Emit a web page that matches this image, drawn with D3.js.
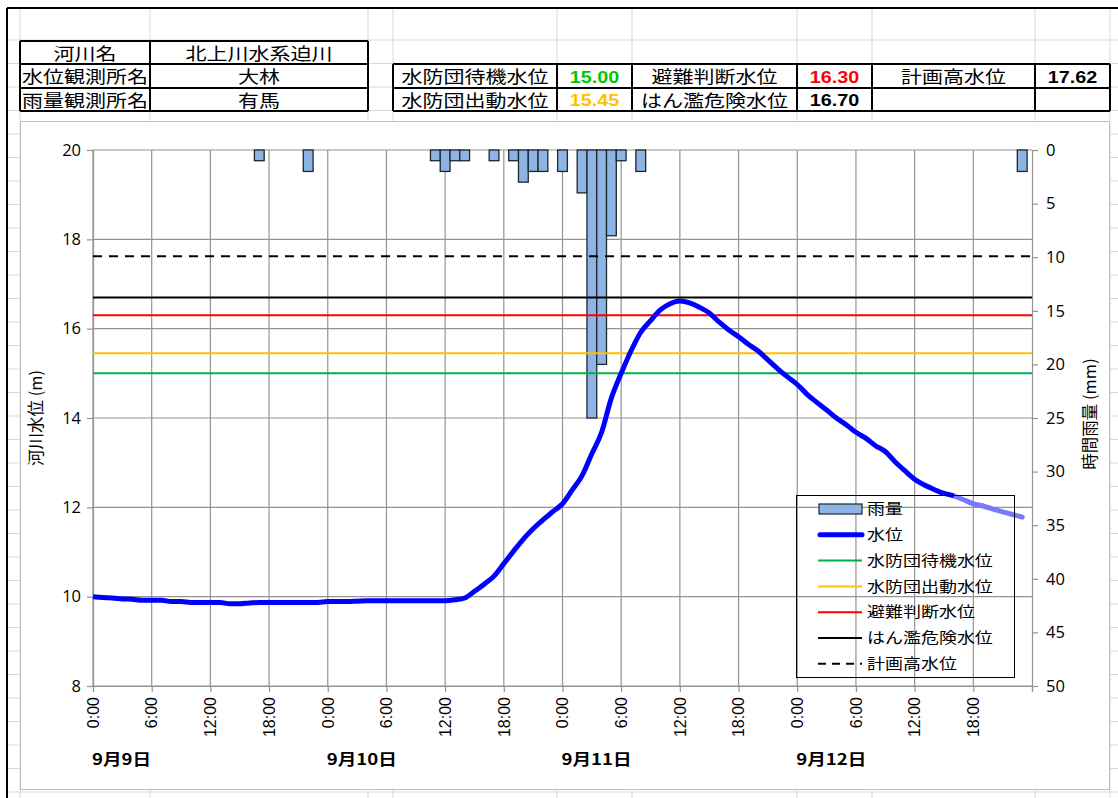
<!DOCTYPE html>
<html><head><meta charset="utf-8">
<script src="https://cdn.jsdelivr.net/npm/d3@7"></script>
<style>body{margin:0;background:#fff}svg{display:block}</style>
</head><body><svg id="c" width="1118" height="798"></svg>
<script>
// ---------- data ----------
const waterLevel = [
 10.00, 9.98, 9.97, 9.95, 9.94, 9.92, 9.92, 9.92, 9.89, 9.89, 9.87, 9.87,
  9.87, 9.87, 9.84, 9.84, 9.86, 9.87, 9.87, 9.87, 9.87, 9.87, 9.87, 9.87,
  9.89, 9.89, 9.89, 9.90, 9.91, 9.91, 9.91, 9.91, 9.91, 9.91, 9.91, 9.91,
  9.91, 9.93, 9.97,10.12,10.28,10.46,10.74,11.02,11.29,11.52,11.72,11.90,
 12.08,12.39,12.71,13.20,13.68,14.45,15.00,15.50,15.92,16.18,16.42,16.56,
 16.62,16.58,16.48,16.35,16.15,15.97,15.82,15.65,15.50,15.30,15.10,14.92,
 14.75,14.53,14.35,14.18,14.00,13.85,13.68,13.55,13.38,13.25,13.02,12.82,
 12.63,12.50,12.40,12.31,12.26,12.17,12.08,12.03,11.96,11.90,11.84,11.78
];
const rainfall = [
 0,0,0,0,0,0,0,0,0,0,0,0, 0,0,0,0,0,1,0,0,0,0,2,0,
 0,0,0,0,0,0,0,0,0,0,0,1, 2,1,1,0,0,1,0,1,3,2,2,0,
 2,0,4,25,20,8,1,0,2,0,0,0, 0,0,0,0,0,0,0,0,0,0,0,0,
 0,0,0,0,0,0,0,0,0,0,0,0, 0,0,0,0,0,0,0,0,0,0,0,2
];
const thresholdNames  = ["水防団待機水位","水防団出動水位","避難判断水位","はん濫危険水位","計画高水位"];
const thresholdValues = [15.00, 15.45, 16.30, 16.70, 17.62];
const xTickHours  = [0,6,12,18,24,30,36,42,48,54,60,66,72,78,84,90];
const xTickLabels = ["0:00","6:00","12:00","18:00","0:00","6:00","12:00","18:00",
                     "0:00","6:00","12:00","18:00","0:00","6:00","12:00","18:00"];
const dateHours  = [0,24,48,72];
const dateLabels = ["9月9日","9月10日","9月11日","9月12日"];
const leftTicks  = [8,10,12,14,16,18,20];
const rightTicks = [0,5,10,15,20,25,30,35,40,45,50];
const infoLabels = ["河川名","水位観測所名","雨量観測所名"];
const infoValues = ["北上川水系迫川","大林","有馬"];
const legendLabels = ["雨量","水位"].concat(thresholdNames);

// ---------- styles ----------
const thrColors = ["#00b050","#ffc000","#ff0000","#000000","#000000"];
const thrDash   = [null,null,null,null,"9,7"];
const numColors = ["#00c800","#ffc000","#ff0000","#000000","#000000"];
const CJK = "'Noto Sans CJK JP', sans-serif";
const SX = 1.2;

const svg = d3.select("#c");
const W = 1118, H = 798;

// ---------- spreadsheet background ----------
const bg = svg.append("g");
bg.append("rect").attr("width",W).attr("height",H).attr("fill","#fff");
const gridCols = [20,150,368,393,557,632,797,872,1035,1110];
const gridRows = d3.range(40, H, 23.5);
bg.selectAll("line.r").data(gridRows).join("line")
  .attr("x1",8).attr("x2",W).attr("y1",d=>d).attr("y2",d=>d)
  .attr("stroke","#d9d9d9").attr("stroke-width",1);
bg.selectAll("line.c").data(gridCols).join("line")
  .attr("x1",d=>d).attr("x2",d=>d).attr("y1",8).attr("y2",H)
  .attr("stroke","#d9d9d9").attr("stroke-width",1);
bg.append("line").attr("x1",7).attr("x2",W).attr("y1",8).attr("y2",8).attr("stroke","#000").attr("stroke-width",2);
bg.append("line").attr("x1",7).attr("x2",7).attr("y1",8).attr("y2",H).attr("stroke","#000").attr("stroke-width",2);

function stext(g, x, y, s, o) {
  o = o || {};
  return g.append("text")
    .attr("transform", `translate(${x},${y}) scale(${o.sx||SX},1)`)
    .attr("text-anchor", o.anchor || "middle")
    .attr("dy", o.dy || "0.35em")
    .attr("font-family", o.font || CJK)
    .attr("font-size", o.size || 17.5)
    .attr("font-weight", o.weight || "normal")
    .attr("fill", o.fill || "#000")
    .text(s);
}

// ---------- info tables ----------
const tbl = svg.append("g");
const rowsL = [41,64,88,111];
const colsL = [20,150,368];
infoLabels.forEach((s,i)=>{
  tbl.append("rect").attr("x",colsL[0]).attr("y",rowsL[i]).attr("width",colsL[2]-colsL[0]).attr("height",rowsL[i+1]-rowsL[i]).attr("fill","#fff");
  stext(tbl,(colsL[0]+colsL[1])/2,(rowsL[i]+rowsL[i+1])/2+1,s);
  stext(tbl,(colsL[1]+colsL[2])/2,(rowsL[i]+rowsL[i+1])/2+1,infoValues[i]);
});
rowsL.forEach(r=>tbl.append("line").attr("x1",colsL[0]).attr("x2",colsL[2]).attr("y1",r).attr("y2",r).attr("stroke","#000").attr("stroke-width",2));
colsL.forEach(c=>tbl.append("line").attr("x1",c).attr("x2",c).attr("y1",rowsL[0]).attr("y2",rowsL[3]).attr("stroke","#000").attr("stroke-width",2));

const rowsR = [64,88,111];
const colsR = [393,557,632,797,872,1035,1110];
const cellsR = [[0,2,4],[1,3,null]];
tbl.append("rect").attr("x",colsR[0]).attr("y",rowsR[0]).attr("width",colsR[6]-colsR[0]).attr("height",rowsR[2]-rowsR[0]).attr("fill","#fff");
cellsR.forEach((row,ri)=>{
  row.forEach((idx,ci)=>{
    if (idx===null) return;
    const cy = (rowsR[ri]+rowsR[ri+1])/2+1;
    stext(tbl,(colsR[ci*2]+colsR[ci*2+1])/2,cy,thresholdNames[idx]);
    stext(tbl,(colsR[ci*2+1]+colsR[ci*2+2])/2,cy,thresholdValues[idx].toFixed(2),
      {font:"'Liberation Sans', Arial, sans-serif",weight:"bold",size:16.5,fill:numColors[idx]});
  });
});
rowsR.forEach(r=>tbl.append("line").attr("x1",colsR[0]).attr("x2",colsR[6]).attr("y1",r).attr("y2",r).attr("stroke","#000").attr("stroke-width",2));
colsR.forEach(c=>tbl.append("line").attr("x1",c).attr("x2",c).attr("y1",rowsR[0]).attr("y2",rowsR[2]).attr("stroke","#000").attr("stroke-width",2));

// ---------- chart area ----------
svg.append("rect").attr("x",20.5).attr("y",121.5).attr("width",1089).attr("height",668)
  .attr("fill","#fff").attr("stroke","#bfbfbf").attr("stroke-width",1);

const x  = d3.scaleLinear().domain([0,96]).range([93,1032]);
const y  = d3.scaleLinear().domain([8,20]).range([686,150]);
const yR = d3.scaleLinear().domain([0,50]).range([150,686]);

const plot = svg.append("g");
const GRID = "#939393";
plot.selectAll("line.hg").data(leftTicks).join("line")
  .attr("x1",x(0)).attr("x2",x(96)).attr("y1",d=>y(d)).attr("y2",d=>y(d))
  .attr("stroke",GRID).attr("stroke-width",1.2);
plot.selectAll("line.vg").data(xTickHours).join("line")
  .attr("x1",d=>x(d)).attr("x2",d=>x(d)).attr("y1",y(20)).attr("y2",y(8))
  .attr("stroke",GRID).attr("stroke-width",1.2);

const axL = d3.axisLeft(y).tickValues(leftTicks).tickSize(6).tickFormat(d3.format("d"));
const gL = plot.append("g").attr("transform",`translate(${x(0)},0)`).call(axL);
const axR = d3.axisRight(yR).tickValues(rightTicks).tickSize(6).tickFormat(d3.format("d"));
const gR = plot.append("g").attr("transform",`translate(${x(96)},0)`).call(axR);
const axB = d3.axisBottom(x).tickValues(xTickHours.concat([96])).tickSize(6).tickFormat("");
const gB = plot.append("g").attr("transform",`translate(0,${y(8)})`).call(axB);
[gL,gR,gB].forEach(g=>{
  g.select(".domain").attr("stroke",GRID).attr("stroke-width",1.2);
  g.selectAll(".tick line").attr("stroke",GRID).attr("stroke-width",1.2);
});
gL.selectAll(".tick text").attr("font-family","'Open Sans', sans-serif").attr("font-size",16.5).attr("fill","#000").attr("x",-12);
gR.selectAll(".tick text").attr("font-family","'Open Sans', sans-serif").attr("font-size",16.5).attr("fill","#000").attr("x",14);

xTickHours.forEach((h,i)=>{
  plot.append("text")
    .attr("transform",`translate(${x(h)},${y(8)+11}) rotate(-90)`)
    .attr("text-anchor","end").attr("dy","0.36em")
    .attr("font-family","'Liberation Sans', Arial, sans-serif").attr("font-size",16)
    .text(xTickLabels[i]);
});
dateHours.forEach((h,i)=>{
  stext(plot, x(h)-1, 760, dateLabels[i], {anchor:"start", size:15.5, weight:"bold"});
});
plot.append("text").attr("transform","translate(36,418) rotate(-90)")
  .attr("text-anchor","middle").attr("dy","0.35em")
  .attr("font-family",CJK).attr("font-size",16.5).text("河川水位 (m)");
plot.append("text").attr("transform","translate(1090,414) rotate(-90)")
  .attr("text-anchor","middle").attr("dy","0.35em")
  .attr("font-family",CJK).attr("font-size",16.5).text("時間雨量 (mm)");

// rainfall bars
const bw = x(1)-x(0);
plot.selectAll("rect.bar").data(rainfall.map((v,i)=>({h:i,v})).filter(d=>d.v>0)).join("rect")
  .attr("x",d=>x(d.h)-bw/2).attr("y",yR(0)).attr("width",bw).attr("height",d=>yR(d.v)-yR(0))
  .attr("fill","#8db4e2").attr("stroke","#1c2733").attr("stroke-width",1.3);

// threshold lines
thresholdValues.forEach((v,i)=>{
  plot.append("line").attr("x1",x(0)).attr("x2",x(96)).attr("y1",y(v)).attr("y2",y(v))
    .attr("stroke",thrColors[i]).attr("stroke-width",2)
    .attr("stroke-dasharray",thrDash[i]);
});

// water level line
const pts = waterLevel.map((v,i)=>[i,v]);
const line = d3.line().x(d=>x(d[0])).y(d=>y(d[1])).curve(d3.curveMonotoneX);
const split = 88;
plot.append("path").datum(pts.slice(split)).attr("d",line)
  .attr("fill","none").attr("stroke","#7878ff").attr("stroke-width",5).attr("stroke-linecap","round");
plot.append("path").datum(pts.slice(0,split+1)).attr("d",line)
  .attr("fill","none").attr("stroke","#0000ff").attr("stroke-width",5).attr("stroke-linejoin","round");

// legend
const lg = svg.append("g");
lg.append("rect").attr("x",796.5).attr("y",495.5).attr("width",218).attr("height",182)
  .attr("fill","none").attr("stroke","#000").attr("stroke-width",1);
const lgY = d3.range(7).map(i=>509+i*25.8);
legendLabels.forEach((s,i)=>{
  const cy = lgY[i];
  if (i===0) {
    lg.append("rect").attr("x",819).attr("y",cy-5).attr("width",43).attr("height",10)
      .attr("fill","#8db4e2").attr("stroke","#1c2733").attr("stroke-width",1.2);
  } else if (i===1) {
    lg.append("line").attr("x1",820).attr("x2",862).attr("y1",cy).attr("y2",cy)
      .attr("stroke","#0000ff").attr("stroke-width",5).attr("stroke-linecap","round");
  } else {
    lg.append("line").attr("x1",818).attr("x2",862).attr("y1",cy).attr("y2",cy)
      .attr("stroke",thrColors[i-2]).attr("stroke-width",2)
      .attr("stroke-dasharray",thrDash[i-2] ? "8,6" : null);
  }
  stext(lg, 867, cy, s, {anchor:"start", size:15});
});
</script>
</body></html>
